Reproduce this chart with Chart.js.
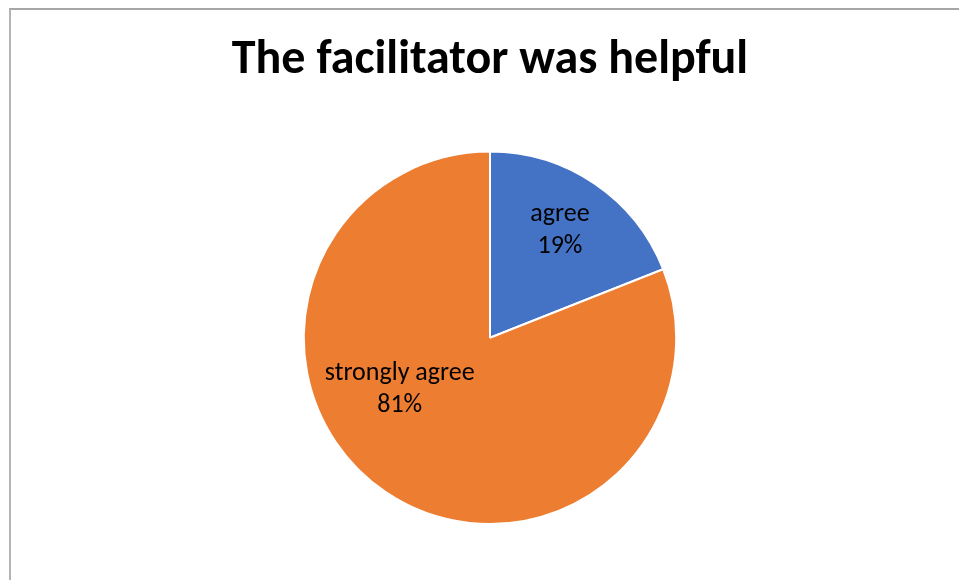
<!DOCTYPE html>
<html>
<head>
<meta charset="utf-8">
<script src="https://cdn.jsdelivr.net/npm/chart.js@4.4.1/dist/chart.umd.min.js"></script>
<style>
    html, body { margin: 0; padding: 0; background: #fff; }
    #wrap { position: relative; width: 959px; height: 580px; overflow: hidden; }
    #frame { position: absolute; left: 9px; top: 8px; width: 1000px; height: 1000px;
             border-top: 2px solid #a6a6a6; border-left: 2px solid #b4b4b4; box-sizing: border-box; }
    canvas { position: absolute; left: 0; top: 0; }
</style>
</head>
<body>
<div id="wrap">
    <div id="frame"></div>
    <canvas id="chart-area" width="959" height="580"></canvas>
</div>
<script>
const titulo = 'The facilitator was helpful';
const categorias = ['agree', 'strongly agree'];
const percentuais = [19, 81];
const cores = ['#4472C4', '#ED7D31'];

// posição dos rótulos: ângulo (graus, null = meio da fatia) e fração do raio
const posRotulos = [
    { angulo: -57, frac: 0.69 },
    { angulo: 150, frac: 0.56 }
];

const rotulosPlugin = {
    id: 'rotulos',
    afterDatasetsDraw(chart) {
        const ctx = chart.ctx;
        const meta = chart.getDatasetMeta(0);
        ctx.save();
        ctx.fillStyle = '#000';
        ctx.font = '26px Carlito, Lato, sans-serif';
        ctx.textAlign = 'center';
        ctx.textBaseline = 'middle';
        meta.data.forEach((arc, i) => {
            const p = arc.getProps(['x', 'y', 'startAngle', 'endAngle', 'outerRadius'], true);
            const pos = posRotulos[i];
            let ang = pos.angulo === null ? (p.startAngle + p.endAngle) / 2 : pos.angulo * Math.PI / 180;
            const r = p.outerRadius * pos.frac;
            const cx = p.x + Math.cos(ang) * r;
            const cy = p.y + Math.sin(ang) * r;
            ctx.fillText(categorias[i], cx, cy - 16);
            ctx.fillText(percentuais[i] + '%', cx, cy + 16);
        });
        ctx.restore();
    }
};

function gerarGrafico() {
    let config = {
        type: 'pie',
        data: {
            labels: categorias,
            datasets: [{
                data: percentuais,
                backgroundColor: cores,
                borderColor: '#fff',
                borderWidth: 2
            }]
        },
        options: {
            responsive: false,
            animation: false,
            layout: { padding: { left: 21, right: 0, top: 0, bottom: 55 } },
            plugins: {
                legend: { display: false },
                tooltip: { enabled: false },
                title: {
                    display: true,
                    text: titulo,
                    color: '#000',
                    font: { family: 'Carlito, Lato, sans-serif', size: 48, weight: 'bold', lineHeight: 1.2 },
                    padding: { top: 32, bottom: 61 }
                }
            }
        },
        plugins: [rotulosPlugin]
    };
    let ctx = document.getElementById('chart-area').getContext('2d');
    window.myPie = new Chart(ctx, config);
}

gerarGrafico();
</script>
</body>
</html>
